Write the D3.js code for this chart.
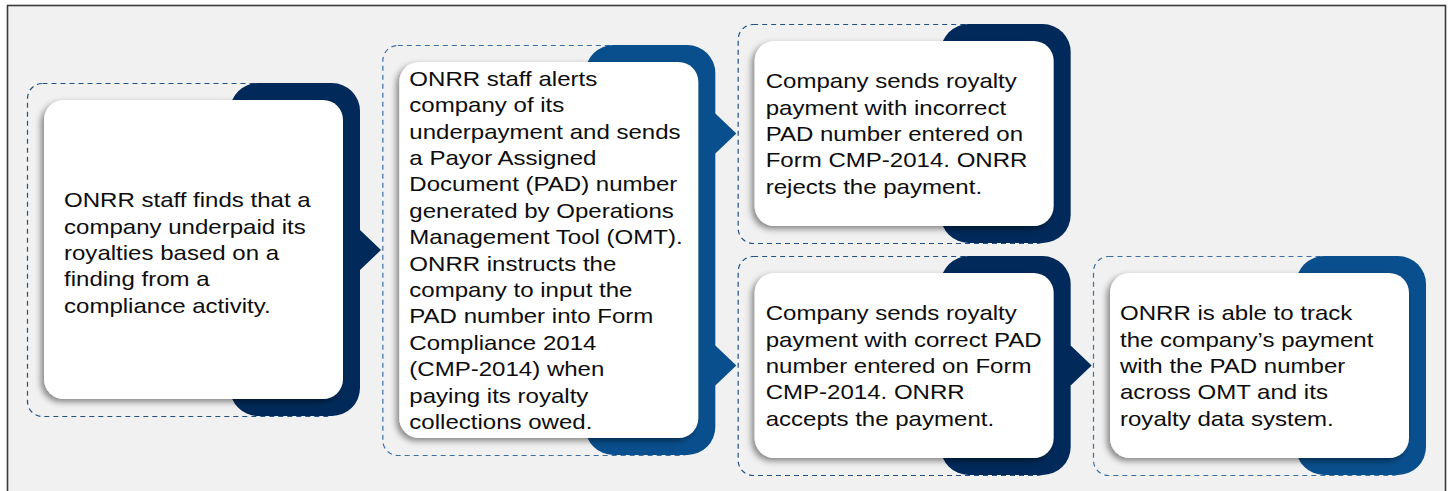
<!DOCTYPE html>
<html>
<head>
<meta charset="utf-8">
<script src="https://cdn.jsdelivr.net/npm/d3@7"></script>
<style>
  html, body { margin: 0; padding: 0; background: #ffffff; }
  svg { display: block; }
</style>
</head>
<body>
<svg id="chart" width="1450" height="491"></svg>
<script>
"use strict";

// Steps of the flow, one entry per box, text already broken in lines
const stepLines = [
    ["ONRR staff finds that a", "company underpaid its", "royalties based on a", "finding from a", "compliance activity."],
    ["ONRR staff alerts", "company of its", "underpayment and sends", "a Payor Assigned", "Document (PAD) number",
     "generated by Operations", "Management Tool (OMT).", "ONRR instructs the", "company to input the",
     "PAD number into Form", "Compliance 2014", "(CMP-2014) when", "paying its royalty", "collections owed."],
    ["Company sends royalty", "payment with incorrect", "PAD number entered on", "Form CMP-2014. ONRR", "rejects the payment."],
    ["Company sends royalty", "payment with correct PAD", "number entered on Form", "CMP-2014. ONRR", "accepts the payment."],
    ["ONRR is able to track", "the company\u2019s payment", "with the PAD number", "across OMT and its", "royalty data system."]
];
const stepColumn = [0, 1, 2, 2, 3];
const stepTone = ["dark", "mid", "dark", "dark", "mid"];
// arrows: [from, to]
const links = [[0, 1], [1, 2], [1, 3], [3, 4]];

// layout (not data): vertical extent of each outer box, text indent
const boxTop = [83, 45, 24, 256, 256];
const boxBottom = [416, 455, 243, 475, 475];
const textIndent = [20, 10, 11, 11, 10];
const textShift = [3, 0, 0, 0, 0];

const colors = {
    dark: {fill: "#012a5a", dash: "#24507f"},
    mid: {fill: "#0a4f8d", dash: "#3d6fa3"}
};

const svg = d3.select("#chart");

const x = d3.scaleLinear().domain([0, 3]).range([27, 1093]);
const boxW = 333;
const inset = 17;
const tabW = 130;
const lineH = 26.4;
const stretch = 1.145;   // the original type is a little wider than Arial

const defs = svg.append("defs");
const shadow = defs.append("filter")
    .attr("id", "shadow")
    .attr("x", "-10%").attr("y", "-10%")
    .attr("width", "120%").attr("height", "120%");
shadow.append("feDropShadow")
    .attr("dx", -3).attr("dy", 3)
    .attr("stdDeviation", 3)
    .attr("flood-color", "#000")
    .attr("flood-opacity", 0.45);

// frame
svg.append("rect")
    .attr("x", 7.5).attr("y", 5.5)
    .attr("width", 1438).attr("height", 500)
    .attr("fill", "#f1f1f1")
    .attr("stroke", "#3a3a3a")
    .attr("stroke-width", 1.6);

const steps = stepLines.map(function(lines, i) {
    const x0 = x(stepColumn[i]);
    return {
        i: i,
        lines: lines,
        x0: x0,
        x1: x0 + boxW,
        y0: boxTop[i],
        y1: boxBottom[i],
        tone: colors[stepTone[i]]
    };
});

// dashed outlines
svg.selectAll("rect.outline")
    .data(steps)
    .enter()
    .append("rect")
    .attr("class", "outline")
    .attr("x", d => d.x0 + 0.5)
    .attr("y", d => d.y0 + 0.5)
    .attr("width", boxW - 20)
    .attr("height", d => d.y1 - d.y0)
    .attr("rx", 15)
    .attr("fill", "none")
    .attr("stroke", d => d.tone.dash)
    .attr("stroke-width", 1.2)
    .attr("stroke-dasharray", "5,4");

// coloured tab behind each card, with chevrons on its right edge
function tabPath(d) {
    const r = 28;
    const left = d.x1 - tabW, right = d.x1, top = d.y0, bottom = d.y1;
    const arrows = links.filter(l => l[0] === d.i)
        .map(l => (steps[l[1]].y0 + steps[l[1]].y1) / 2)
        .sort((a, b) => a - b);
    const p = d3.path();
    p.moveTo(left + r, top);
    p.lineTo(right - r, top);
    p.arcTo(right, top, right, top + r, r);
    arrows.forEach(function(cy) {
        p.lineTo(right, cy - 20);
        p.lineTo(right + 21, cy);
        p.lineTo(right, cy + 20);
    });
    p.lineTo(right, bottom - r);
    p.arcTo(right, bottom, right - r, bottom, r);
    p.lineTo(left + r, bottom);
    p.arcTo(left, bottom, left, bottom - r, r);
    p.lineTo(left, top + r);
    p.arcTo(left, top, left + r, top, r);
    p.closePath();
    return p.toString();
}

svg.selectAll("path.tab")
    .data(steps)
    .enter()
    .append("path")
    .attr("class", "tab")
    .attr("d", tabPath)
    .attr("fill", d => d.tone.fill);

// white cards
svg.selectAll("rect.card")
    .data(steps)
    .enter()
    .append("rect")
    .attr("class", "card")
    .attr("x", d => d.x0 + inset)
    .attr("y", d => d.y0 + inset)
    .attr("width", boxW - 2 * inset)
    .attr("height", d => d.y1 - d.y0 - 2 * inset)
    .attr("rx", 20)
    .attr("fill", "#ffffff")
    .attr("filter", "url(#shadow)");

// card text, centred vertically on the card
const labels = svg.selectAll("text.step")
    .data(steps)
    .enter()
    .append("text")
    .attr("class", "step")
    .attr("transform", d => "translate(" + (d.x0 + inset + textIndent[d.i]) + ",0) scale(" + stretch + ",1)")
    .attr("font-family", "'Liberation Sans', Arial, sans-serif")
    .attr("font-size", "21px")
    .attr("fill", "#0d0d0d");

labels.each(function(d) {
    const cy = (d.y0 + d.y1) / 2;
    const first = cy + 7.5 + textShift[d.i] - (d.lines.length - 1) * lineH / 2;
    d3.select(this).selectAll("tspan")
        .data(d.lines)
        .enter()
        .append("tspan")
        .attr("x", 0)
        .attr("y", (t, k) => first + k * lineH)
        .text(t => t);
});
</script>
</body>
</html>
